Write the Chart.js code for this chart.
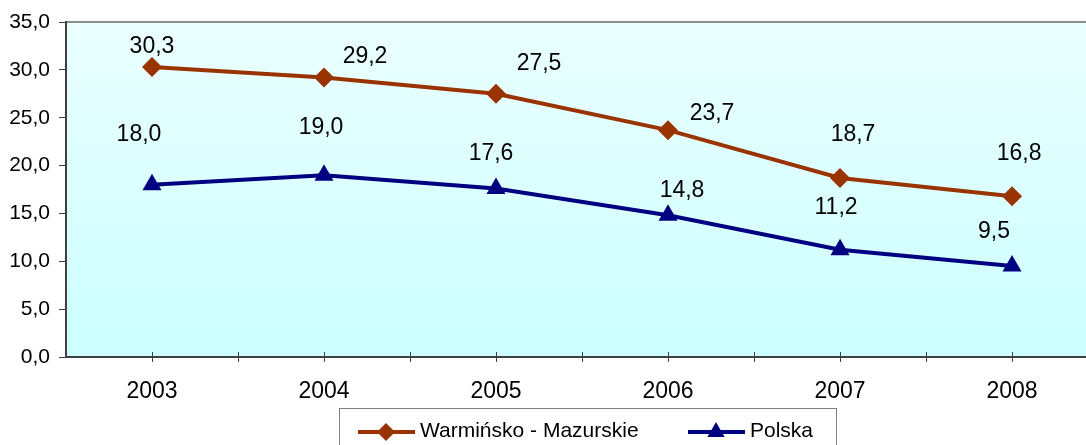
<!DOCTYPE html>
<html>
<head>
<meta charset="utf-8">
<script src="https://cdn.jsdelivr.net/npm/chart.js@4.4.1/dist/chart.umd.min.js"></script>
<style>
  html, body { margin: 0; padding: 0; background: #fff; overflow: hidden; }
</style>
</head>
<body>
<canvas id="wykres" width="1086" height="445"></canvas>
<script>
// Dane
const lata = [2003, 2004, 2005, 2006, 2007, 2008];
const warminskoMazurskie = [30.3, 29.2, 27.5, 23.7, 18.7, 16.8];
const polska = [18.0, 19.0, 17.6, 14.8, 11.2, 9.5];
const nazwySerii = ['Warmińsko - Mazurskie', 'Polska'];

// przesunięcia etykiet danych (jak w oryginale, ręcznie rozmieszczone)
const przesuniecia = [
  [[0, -20], [41, -21], [43, -30], [44, -17], [13, -43], [7, -43]],
  [[-13, -50], [-3, -47], [-5, -35], [14, -25], [-4, -42], [-18, -34]]
];

const FONT = '"Liberation Sans", Arial, sans-serif';
const fmt = v => Number(v).toFixed(1).replace('.', ',');

// tło obszaru wykresu (gradient) + ramka górna
const tloPlugin = {
  id: 'tlo',
  beforeDraw(chart) {
    const { ctx, chartArea: a } = chart;
    const g = ctx.createLinearGradient(0, a.top, 0, a.bottom);
    g.addColorStop(0, '#ebffff');
    g.addColorStop(1, '#ccffff');
    ctx.save();
    ctx.fillStyle = g;
    ctx.fillRect(a.left, a.top, a.right - a.left, a.bottom - a.top);
    ctx.strokeStyle = '#8c8c8c';
    ctx.lineWidth = 2;
    ctx.beginPath();
    ctx.moveTo(a.left, a.top);
    ctx.lineTo(a.right, a.top);
    ctx.stroke();
    ctx.restore();
  }
};

// znaczniki osi X (przecinające oś) + etykiety danych + legenda
const rysujPlugin = {
  id: 'rysuj',
  afterDraw(chart) {
    const { ctx, chartArea: a } = chart;
    const x = chart.scales.x;
    ctx.save();
    ctx.strokeStyle = '#404040';
    ctx.lineWidth = 1;
    for (let v = 2003; v <= 2008.5; v += 0.5) {
      const px = Math.round(x.getPixelForValue(v)) + 0.5;
      if (px > a.right) continue;
      ctx.beginPath();
      ctx.moveTo(px, a.bottom - 5);
      ctx.lineTo(px, a.bottom + 5);
      ctx.stroke();
    }

    // etykiety danych
    ctx.fillStyle = '#000';
    ctx.font = '23px ' + FONT;
    ctx.textAlign = 'center';
    ctx.textBaseline = 'middle';
    chart.data.datasets.forEach((ds, i) => {
      const meta = chart.getDatasetMeta(i);
      meta.data.forEach((pt, j) => {
        const [dx, dy] = przesuniecia[i][j];
        ctx.fillText(fmt(ds.data[j].y), pt.x + dx, pt.y + dy);
      });
    });

    // legenda
    ctx.strokeStyle = '#808080';
    ctx.lineWidth = 1;
    ctx.strokeRect(339.5, 408.5, 497, 50);
    const poz = [358, 688];
    ctx.textAlign = 'left';
    ctx.font = '21px ' + FONT;
    chart.data.datasets.forEach((ds, i) => {
      const x0 = poz[i], y0 = 432;
      ctx.strokeStyle = ds.borderColor;
      ctx.lineWidth = 4;
      ctx.beginPath();
      ctx.moveTo(x0, y0);
      ctx.lineTo(x0 + 57, y0);
      ctx.stroke();
      ctx.fillStyle = ds.borderColor;
      Chart.helpers.drawPoint(ctx, {
        pointStyle: ds.pointStyle, radius: ds.pointRadius - 1, rotation: 0, borderWidth: 0
      }, x0 + 28, y0);
      ctx.fillStyle = '#000';
      ctx.fillText(ds.label, x0 + 62, y0 - 1);
    });
    ctx.restore();
  }
};

new Chart(document.getElementById('wykres'), {
  type: 'line',
  data: {
    datasets: [
      {
        label: nazwySerii[0],
        data: warminskoMazurskie,
        borderColor: '#993300',
        backgroundColor: '#993300',
        borderWidth: 4,
        pointStyle: 'rectRot',
        pointRadius: 10,
        pointBorderWidth: 0,
        tension: 0
      },
      {
        label: nazwySerii[1],
        data: polska,
        borderColor: '#000080',
        backgroundColor: '#000080',
        borderWidth: 4,
        pointStyle: 'triangle',
        pointRadius: 11,
        pointBorderWidth: 0,
        tension: 0
      }
    ].map(ds => ({ ...ds, data: ds.data.map((v, k) => ({ x: lata[k], y: v })) })),
  },
  options: {
    responsive: false,
    animation: false,
    layout: { autoPadding: false, padding: { top: 22, right: 0, left: 0, bottom: 0 } },
    plugins: { legend: { display: false }, tooltip: { enabled: false } },
    scales: {
      x: {
        type: 'linear',
        min: 2002.5,
        max: 2008.43,
        afterFit(s) { s.height = 88; s.paddingLeft = 0; s.paddingRight = 0; },
        afterBuildTicks(s) { s.ticks = lata.map(v => ({ value: v })); },
        grid: { drawOnChartArea: false, drawTicks: false },
        border: { color: '#404040', width: 2 },
        ticks: {
          color: '#000',
          font: { family: FONT, size: 23 },
          padding: 21,
          maxRotation: 0,
          callback: v => String(v)
        }
      },
      y: {
        min: 0,
        max: 35,
        afterFit(s) { s.width = 66; s.paddingTop = 0; s.paddingBottom = 0; },
        grid: { drawOnChartArea: false, tickLength: 7, color: '#404040' },
        border: { color: '#404040', width: 2 },
        ticks: {
          stepSize: 5,
          color: '#000',
          font: { family: FONT, size: 21 },
          padding: 9,
          callback: v => fmt(v)
        }
      }
    }
  },
  plugins: [tloPlugin, rysujPlugin]
});
</script>
</body>
</html>
